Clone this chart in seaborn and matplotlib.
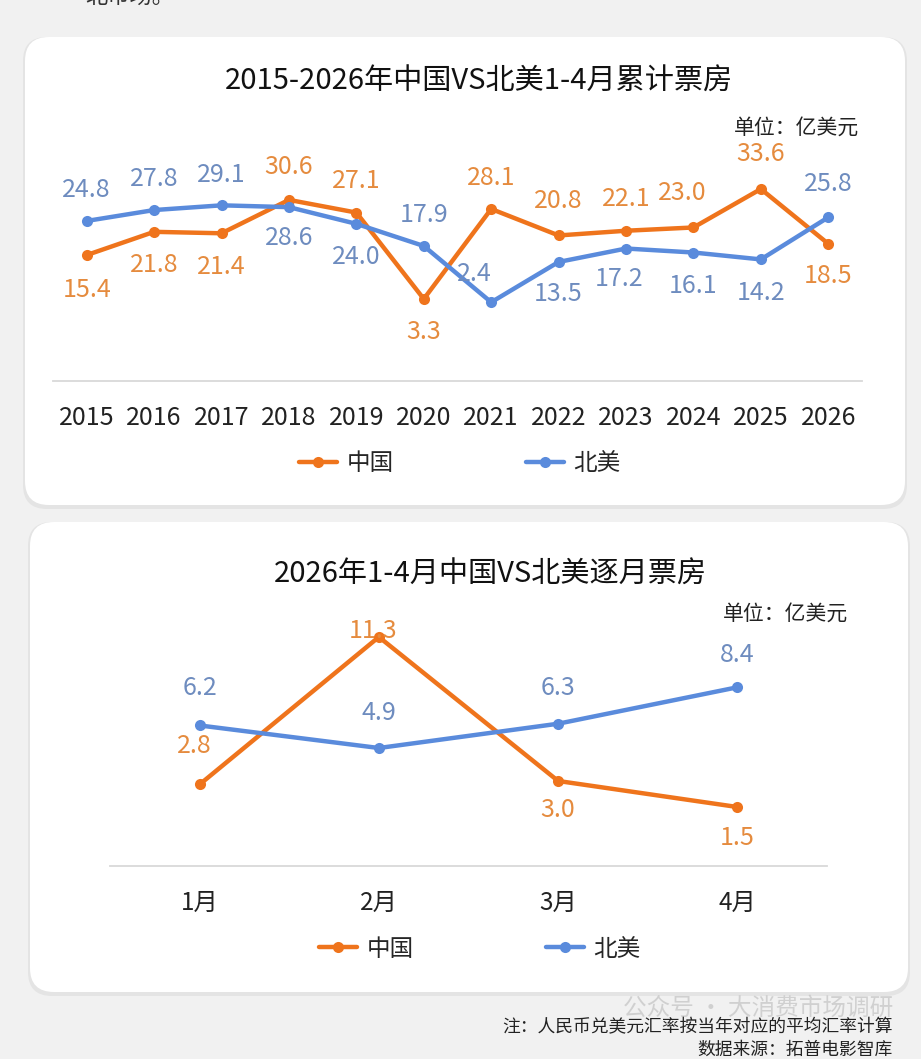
import pandas as pd
import seaborn as sns
import matplotlib.pyplot as plt
from matplotlib.patches import FancyBboxPatch

# Data (unit: 100M USD)
years = ['2015', '2016', '2017', '2018', '2019', '2020',
         '2021', '2022', '2023', '2024', '2025', '2026']
china_cum = [15.4, 21.8, 21.4, 30.6, 27.1, 3.3, 28.1, 20.8, 22.1, 23.0, 33.6, 18.5]
na_cum = [24.8, 27.8, 29.1, 28.6, 24.0, 17.9, 2.4, 13.5, 17.2, 16.1, 14.2, 25.8]

months = ['1月', '2月', '3月', '4月']
china_month = [2.8, 11.3, 3.0, 1.5]
na_month = [6.2, 4.9, 6.3, 8.4]

series_names = ['中国', '北美']

# label placement: (dx, dy) in points
china_cum_off = [(0, -25), (0, -24), (0, -24), (0, 24), (0, 23), (0, -24),
                 (0, 22), (0, 25), (0, 23), (-8, 25), (0, 25), (0, -23)]
na_cum_off = [(0, 22), (0, 22), (0, 22), (0, -22), (0, -24), (0, 22),
              (-12, 20), (0, -23), (-5, -22), (0, -24), (0, -24), (0, 24)]
china_month_off = [(-4, 28), (-4, 4), (0, -21), (0, -22)]
na_month_off = [(0, 27), (0, 25), (0, 26), (0, 23)]

ORANGE = '#EF741C'
BLUE = '#5A8BDC'
ORANGE_TXT = '#E58B3E'
BLUE_TXT = '#6E8CBF'
FONT = ['Noto Sans CJK SC', 'DejaVu Sans']

sns.set_theme(style='white')
plt.rcParams['font.family'] = FONT

W, H = 921, 1059
fig = plt.figure(figsize=(W / 100, H / 100), dpi=100, facecolor='#f1f1f1')


def px(x, y):
    # pixel position (from top-left) -> figure fraction
    return x / W, 1 - y / H


def card(x0, y0, x1, y1):
    shadow = FancyBboxPatch((x0 - 2, H - y1 - 4), x1 - x0 + 4, y1 - y0 + 4,
                            boxstyle='round,pad=0,rounding_size=24',
                            transform=None, facecolor='#e4e4e4', edgecolor='none', zorder=0)
    box = FancyBboxPatch((x0, H - y1), x1 - x0, y1 - y0,
                         boxstyle='round,pad=0,rounding_size=24',
                         transform=None, facecolor='white', edgecolor='none', zorder=0)
    fig.add_artist(shadow)
    fig.add_artist(box)


def draw_panel(ax, cats, china, na, ylim, china_off, na_off, tick_fs):
    df = pd.DataFrame({
        'x': list(range(len(cats))) * 2,
        'value': china + na,
        'region': [series_names[0]] * len(cats) + [series_names[1]] * len(cats),
    })
    sns.lineplot(data=df, x='x', y='value', hue='region',
                 palette={series_names[0]: ORANGE, series_names[1]: BLUE},
                 marker='o', markersize=8, markeredgewidth=0, linewidth=3.2,
                 ax=ax)
    for vals, offs, col in [(china, china_off, ORANGE_TXT), (na, na_off, BLUE_TXT)]:
        for i, v in enumerate(vals):
            ax.annotate(f'{v:.1f}', (i, v), xytext=offs[i], textcoords='offset points',
                        ha='center', va='center', fontsize=18, color=col)
    ax.set_xlim(-0.5, len(cats) - 0.5)
    ax.set_ylim(*ylim)
    ax.set_xticks(range(len(cats)))
    ax.set_xticklabels(cats, fontsize=tick_fs, color='#222222')
    ax.tick_params(axis='x', length=0, pad=17)
    ax.set_yticks([])
    ax.set_xlabel('')
    ax.set_ylabel('')
    for s in ['top', 'left', 'right']:
        ax.spines[s].set_visible(False)
    ax.spines['bottom'].set_color('#d9d9d9')
    ax.spines['bottom'].set_linewidth(1.3)
    ax.set_facecolor('none')
    handles, labels = ax.get_legend_handles_labels()
    ax.get_legend().remove()
    return handles, labels


# cards
card(25, 37, 905, 505)
card(30, 522, 908, 992)

# top panel
ax1 = fig.add_axes([53 / W, 1 - 381 / H, 809 / W, 241 / H])
h1, l1 = draw_panel(ax1, years, china_cum, na_cum, (-19.3, 47.1),
                    china_cum_off, na_cum_off, 18)
fig.text(*px(479, 82), '2015-2026年中国VS北美1-4月累计票房',
         ha='center', va='center', fontsize=21, color='#111111')
fig.text(*px(859, 128), '单位：亿美元', ha='right', va='center', fontsize=15, color='#222222')
fig.legend(h1, l1, loc='center', bbox_to_anchor=px(460, 464), ncol=2, frameon=False,
           fontsize=17, handlelength=1.6, columnspacing=5.6, handletextpad=0.4)

# bottom panel
ax2 = fig.add_axes([110 / W, 1 - 866 / H, 717 / W, 266 / H])
h2, l2 = draw_panel(ax2, months, china_month, na_month, (-1.9, 13.43),
                    china_month_off, na_month_off, 17.5)
fig.text(*px(490, 575), '2026年1-4月中国VS北美逐月票房',
         ha='center', va='center', fontsize=21, color='#111111')
fig.text(*px(848, 614), '单位：亿美元', ha='right', va='center', fontsize=15, color='#222222')
fig.legend(h2, l2, loc='center', bbox_to_anchor=px(480, 949), ncol=2, frameon=False,
           fontsize=17, handlelength=1.6, columnspacing=5.6, handletextpad=0.4)

# text around the cards
fig.text(*px(85, -4), '北市场。', ha='left', va='center', fontsize=16, color='#333333')
fig.text(*px(893, 1008), '公众号 · 大消费市场调研', ha='right', va='center',
         fontsize=17, color='#bbbbbb', alpha=0.6)
fig.text(*px(893, 1027), '注：人民币兑美元汇率按当年对应的平均汇率计算',
         ha='right', va='center', fontsize=12.8, color='#222222')
fig.text(*px(893, 1050), '数据来源：拓普电影智库',
         ha='right', va='center', fontsize=12.8, color='#222222')

fig.savefig('out.png', dpi=100, facecolor=fig.get_facecolor())
